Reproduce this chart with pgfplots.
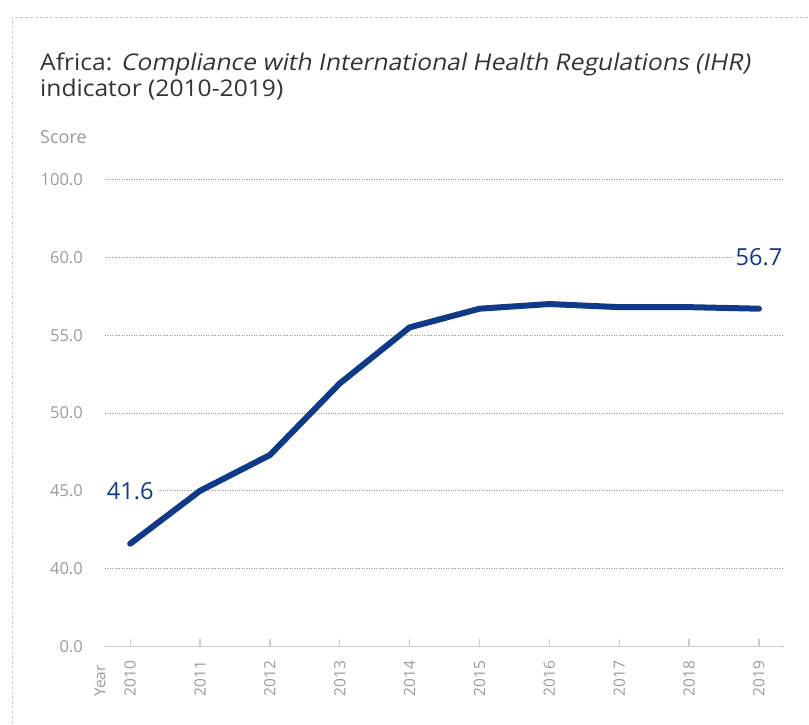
\documentclass[border=0pt]{standalone}
\usepackage{pgfplots}
\pgfplotsset{compat=1.18}
\usepackage{fontspec}
\setmainfont{Open Sans}
% title: slightly wider face, oblique instead of the narrow true italic
\newfontfamily\titlefont{Open Sans}[FakeStretch=1.07, ItalicFont=Open Sans, ItalicFeatures={FakeSlant=0.2}]

\definecolor{ihrblue}{HTML}{0E3A89}
\definecolor{ticktext}{HTML}{9A9A9A}
\definecolor{titletext}{HTML}{333333}
\definecolor{axisgray}{HTML}{CCCCCC}

\begin{document}
\begin{tikzpicture}[x=1pt,y=1pt]
    \path[use as bounding box] (0,0) rectangle (809,724);
    % dashed frame
    \draw[axisgray, dash pattern=on 3pt off 2pt, line width=0.8pt] (12,0) -- (12,707) -- (809,707);

    % title and score label
    \node[anchor=base west, inner sep=0pt, text=titletext, font=\titlefont\fontsize{23}{26}\selectfont]
        at (40,653) {Africa: \textit{Compliance with International Health Regulations (IHR)}};
    \node[anchor=base west, inner sep=0pt, text=titletext, font=\titlefont\fontsize{23}{26}\selectfont]
        at (40,627) {indicator (2010-2019)};
    \node[anchor=base west, inner sep=0pt, text=ticktext, font=\fontsize{18}{20}\selectfont]
        at (40,580) {Score};

    \begin{axis}[
        at={(105pt,77.5pt)}, anchor=south west,
        scale only axis,
        width=677pt, height=467pt,
        xmin=2009.64, xmax=2019.33,
        ymin=0, ymax=100,
        % broken scale: 0 | 40 ... 60 (5 per step) | 100
        y coord trafo/.code={\pgfmathparse{ifthenelse(#1<40, #1/40, ifthenelse(#1>60, 5+(#1-60)/40, 1+(#1-40)/5))}},
        xtick={2010,2011,2012,2013,2014,2015,2016,2017,2018,2019},
        xticklabels={2010,2011,2012,2013,2014,2015,2016,2017,2018,2019},
        ytick={0,40,45,50,55,60,100},
        yticklabels={0.0,40.0,45.0,50.0,55.0,60.0,100.0},
        axis x line*=bottom,
        axis y line*=left,
        y axis line style={draw=none},
        x axis line style={draw=axisgray, line width=1.5pt, -},
        ymajorgrids,
        major grid style={draw=gray!80, dotted, line width=0.8pt},
        tick align=inside,
        major tick length=8pt,
        xtick style={draw=axisgray, line width=1.3pt},
        ytick style={draw=none},
        yticklabel style={text=ticktext, font=\fontsize{16.5}{20}\selectfont, inner sep=0pt, anchor=east},
        yticklabel shift=22pt,
        xticklabel style={text=ticktext, font=\fontsize{15.5}{18}\selectfont, inner sep=0pt, rotate=90, anchor=east},
        xticklabel shift=14pt,
        clip=false,
    ]
    \addplot[ihrblue, line width=6pt, line cap=round, line join=round] coordinates {
        (2010,41.6) (2011,45.0) (2012,47.3) (2013,51.9) (2014,55.5)
        (2015,56.7) (2016,57.0) (2017,56.8) (2018,56.8) (2019,56.7)
    };
    \node[fill=white, inner sep=3pt, text=ihrblue, font=\fontsize{23.5}{26}\selectfont] at (axis cs:2010,45) {41.6};
    \node[fill=white, inner sep=3pt, text=ihrblue, font=\fontsize{23.5}{26}\selectfont] at (axis cs:2019,60) {56.7};
    \end{axis}

    \node[anchor=east, inner sep=0pt, rotate=90, text=ticktext, font=\fontsize{15.5}{18}\selectfont]
        at (100,59) {Year};
\end{tikzpicture}
\end{document}
